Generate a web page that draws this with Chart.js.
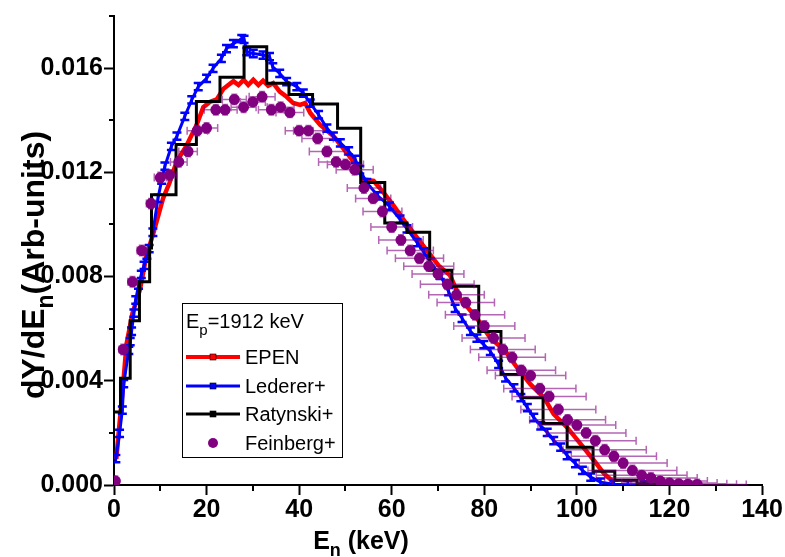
<!DOCTYPE html>
<html><head><meta charset="utf-8">
<script src="https://cdn.jsdelivr.net/npm/chart.js@4.4.0/dist/chart.umd.min.js"></script>
<style>html,body{margin:0;padding:0;background:#fff;}#wrap{width:785px;height:557px;position:relative;}</style>
</head><body><div id="wrap"><canvas id="c" width="785" height="557"></canvas></div>
<script>
// ---- data ----
const epenX = [0.5,0.9,2.0,2.7,4.0,5.6,7.0,8.4,10.6,12.0,13.5,15.6,17.8,19.3,20.7,22.2,23.6,24.7,25.8,26.9,28.0,29.0,30.1,31.2,32.2,33.3,34.4,35.8,37.3,38.7,40.2,41.3,42.4,44.5,47.4,50.3,52.5,53.9,56.1,58.2,60.4,63.3,66.2,70.1,72.6,74.8,78.4,81.3,84.6,87.1,90.0,92.9,95.0,97.9,100.8,103.7,105.9,108.0];
const epenY = [0.0010,0.0018,0.0039,0.0054,0.0066,0.0075,0.0088,0.0096,0.0110,0.0116,0.0124,0.0130,0.0138,0.0145,0.0147,0.0148,0.0152,0.01535,0.0155,0.01535,0.01555,0.01535,0.01555,0.01535,0.01552,0.01532,0.01542,0.0151,0.0149,0.01466,0.01459,0.01466,0.01428,0.01383,0.01339,0.01275,0.01224,0.01173,0.01167,0.01123,0.01072,0.0100,0.00932,0.00843,0.00805,0.00716,0.0064,0.00564,0.00513,0.0045,0.00386,0.00335,0.00272,0.00221,0.00158,0.00094,0.00043,0.0001];

const ledX = [0.4,1.2,1.8,2.1,3.2,3.5,3.8,4.3,4.7,5.3,5.9,6.5,7.1,7.6,8.4,9.5,10.3,11.0,12.4,13.6,15.3,16.8,18.2,20.0,21.4,23.2,24.3,25.8,27.6,28.1,28.7,30.1,32.2,33.6,34.3,35.8,37.3,39.5,40.9,42.4,44.2,46.0,47.4,48.9,50.7,52.1,53.1,54.6,57.0,59.5,61.8,63.3,65.5,66.9,68.3,70.5,72.3,73.7,75.2,77.0,78.4,79.9,81.3,83.1,84.6,86.4,87.9,89.3,90.7,92.2,93.6,95.0,96.5,97.9,99.7,101.2,103.0,105.1,108.0,111.0,114.5];
const ledY = [0.00101,0.00198,0.00287,0.00389,0.00517,0.0055,0.0059,0.0066,0.0071,0.00767,0.00808,0.00843,0.00882,0.00907,0.0097,0.0110,0.0117,0.01224,0.0130,0.01339,0.01415,0.01478,0.01529,0.01561,0.01599,0.01637,0.01675,0.01694,0.01713,0.0171,0.01663,0.01656,0.0165,0.01644,0.01605,0.0158,0.01548,0.01529,0.01504,0.01466,0.01421,0.0137,0.01339,0.01313,0.01282,0.0125,0.0121,0.0116,0.0111,0.0107,0.0102,0.00983,0.0093,0.00895,0.00856,0.00805,0.00742,0.00678,0.0064,0.0059,0.00564,0.00539,0.00513,0.00463,0.00411,0.00373,0.00335,0.00297,0.00259,0.00227,0.00202,0.0017,0.00145,0.00113,0.00082,0.00056,0.0003,0.00011,0.00003,0.00001,0.0];
const ledErr = 0.00014;

const ratEdges = [0,1.4,3.5,5.5,7.7,8.1,13.4,17.8,22.9,28.1,33.0,37.8,42.9,48.3,53.3,58.5,63.3,68.2,73.0,78.8,83.6,88.2,92.7,97.9,103.5,108.2,113.0,118.0];
const ratLevels = [0.0028,0.0041,0.0063,0.0078,0.0091,0.01114,0.01307,0.01472,0.01565,0.01682,0.01542,0.01499,0.01462,0.01369,0.01161,0.01006,0.0097,0.00824,0.00763,0.00589,0.00424,0.00335,0.00236,0.00145,0.00053,0.00018,0.00005];

const feinX = [0.3,2,4,6,8,10,12,14,16,18,20,22,24,26,28,30,32,34,36,38,40,42,44,46,48,50,52,54,56,58,60,62,64,66,68,70,72,74,76,78,80,82,84,86,88,90,92,94,96,98,100,102,104,106,108,110,112,114,116,118,120,122,124,126];
const feinY = [0.00015,0.0052,0.0078,0.0090,0.0108,0.0118,0.0119,0.0124,0.0128,0.0136,0.0137,0.0144,0.0144,0.0148,0.0145,0.0147,0.0149,0.0144,0.0145,0.0143,0.0136,0.0136,0.0133,0.0128,0.0124,0.0123,0.0121,0.0114,0.0110,0.0105,0.0099,0.0094,0.0090,0.0087,0.0084,0.0081,0.0077,0.0073,0.0070,0.00653,0.0061,0.00564,0.0052,0.0049,0.0044,0.0042,0.0037,0.0034,0.0029,0.0025,0.0023,0.0020,0.0017,0.00135,0.0011,0.00084,0.00056,0.00037,0.00027,0.00015,0.00008,0.00005,0.00003,0.00002];
const feinXErr = [0.1,0.9,1.0,1.0,1.0,1.3,1.5,1.8,2.0,2.2,2.4,2.5,2.6,2.6,2.7,2.7,2.8,2.8,2.9,3.0,3.0,3.2,3.4,3.8,3.8,3.9,4.0,3.6,3.8,4.2,4.5,4.8,5.0,5.2,5.4,5.6,5.8,6.0,6.2,6.4,6.6,6.8,7.0,7.2,7.4,7.6,7.8,8.0,8.1,8.2,8.4,8.6,8.8,9.0,9.2,9.5,9.6,9.8,10.0,10.2,10.3,10.4,10.5,10.6];
const feinYErr = 0.0002;

const yTicks = [0.000,0.004,0.008,0.012,0.016];
const xTicks = [0,20,40,60,80,100,120,140];

// ---- build ----
const pts = (xs, ys) => xs.map((x,i)=>({x:x,y:ys[i]}));
const ratData = ratLevels.map((v,i)=>({x:ratEdges[i],y:v}));
ratData.push({x:ratEdges[ratEdges.length-1], y:ratLevels[ratLevels.length-1]});

const errPlugin = {
  id:'errbars',
  beforeDatasetDraw(chart, args){
    const ds = chart.data.datasets[args.index];
    if (!ds._err) return;
    const xs = chart.scales.x, ys = chart.scales.y, ctx = chart.ctx, e = ds._err;
    const a = chart.chartArea;
    ctx.save();
    ctx.beginPath(); ctx.rect(a.left, a.top-5, a.right-a.left, a.bottom-a.top+5); ctx.clip();
    ctx.strokeStyle = e.color; ctx.lineWidth = e.width;
    ctx.beginPath();
    ds.data.forEach((p,i)=>{
      const px = xs.getPixelForValue(p.x), py = ys.getPixelForValue(p.y);
      if (e.y){
        const ev = Array.isArray(e.y)? e.y[i] : e.y;
        const y1 = ys.getPixelForValue(p.y-ev), y2 = ys.getPixelForValue(p.y+ev);
        ctx.moveTo(px,y1); ctx.lineTo(px,y2);
        ctx.moveTo(px-e.capY,y1); ctx.lineTo(px+e.capY,y1);
        ctx.moveTo(px-e.capY,y2); ctx.lineTo(px+e.capY,y2);
      }
      if (e.x){
        const ev = Array.isArray(e.x)? e.x[i] : e.x;
        const x1 = xs.getPixelForValue(p.x-ev), x2 = xs.getPixelForValue(p.x+ev);
        ctx.moveTo(x1,py); ctx.lineTo(x2,py);
        ctx.moveTo(x1,py-e.capX); ctx.lineTo(x1,py+e.capX);
        ctx.moveTo(x2,py-e.capX); ctx.lineTo(x2,py+e.capX);
      }
    });
    ctx.stroke();
    ctx.restore();
  }
};

const decoPlugin = {
  id:'deco',
  afterDraw(chart){
    const ctx = chart.ctx, xs = chart.scales.x, ys = chart.scales.y, a = chart.chartArea;
    ctx.save();
    // minor ticks
    ctx.strokeStyle = '#000'; ctx.lineWidth = 2;
    ctx.beginPath();
    for (let v = 0.002; v <= 0.0181; v += 0.004){
      const py = Math.round(ys.getPixelForValue(v));
      ctx.moveTo(a.left-5, py); ctx.lineTo(a.left, py);
    }
    for (let v = 10; v <= 131; v += 20){
      const px = Math.round(xs.getPixelForValue(v));
      ctx.moveTo(px, a.bottom); ctx.lineTo(px, a.bottom+6);
    }
    ctx.stroke();
    // axis titles
    ctx.fillStyle = '#000';
    ctx.textBaseline = 'alphabetic';
    const F = (s)=>'bold '+s+'px "Liberation Sans", Arial, sans-serif';
    const drawSub = (parts, x, y) => {
      let w = 0; parts.forEach(p=>{ctx.font=p[1]; w += ctx.measureText(p[0]).width;});
      let cx = x - w/2;
      parts.forEach(p=>{ctx.font=p[1]; ctx.textAlign='left'; ctx.fillText(p[0], cx, y+p[2]); cx += ctx.measureText(p[0]).width;});
    };
    drawSub([['E',F(25),0],['n',F(18),7],[' (keV)',F(25),0]], 361, 549);
    ctx.save();
    ctx.translate(44, 265); ctx.rotate(-Math.PI/2);
    drawSub([['dY/dE',F(32),0],['n',F(23),9],['(Arb-units)',F(32),0]], 0, 0);
    ctx.restore();
    // legend
    const L = 182, T = 303, R = 342, B = 457;
    ctx.strokeStyle = '#000'; ctx.lineWidth = 1;
    ctx.strokeRect(L+0.5, T+0.5, R-L, B-T);
    const lf = '20px "Liberation Sans", Arial, sans-serif';
    const lsub = '15px "Liberation Sans", Arial, sans-serif';
    ctx.textAlign='left';
    ctx.font = lf; ctx.fillText('E', 186, 328);
    let wE = ctx.measureText('E').width;
    ctx.font = lsub; ctx.fillText('p', 186+wE, 335);
    let wp = ctx.measureText('p').width;
    ctx.font = lf; ctx.fillText('=1912 keV', 186+wE+wp, 328);
    const items = [['EPEN','#ff0000',4,357],['Lederer+','#0000ff',3,386],['Ratynski+','#000000',3,414],['Feinberg+','#800080',0,443]];
    items.forEach(it=>{
      const y = it[3];
      if (it[2]>0){
        ctx.strokeStyle = it[1]; ctx.lineWidth = it[2];
        ctx.beginPath(); ctx.moveTo(186,y); ctx.lineTo(240,y); ctx.stroke();
        ctx.fillStyle = it[1]; ctx.fillRect(210,y-3,6,6);
        ctx.strokeStyle = '#000'; ctx.lineWidth=0.6; ctx.strokeRect(210,y-3,6,6);
      } else {
        ctx.fillStyle = it[1]; ctx.beginPath(); ctx.arc(213,y,5,0,Math.PI*2); ctx.fill();
      }
      ctx.fillStyle = '#000'; ctx.font = lf; ctx.textBaseline='middle';
      ctx.fillText(it[0], 245, y+1);
      ctx.textBaseline='alphabetic';
    });
    ctx.restore();
  }
};

const tickFont = {family:'"Liberation Sans", Arial, sans-serif', size:25, weight:'bold'};

new Chart(document.getElementById('c'), {
  type:'scatter',
  data:{datasets:[
    {label:'Feinberg+', data:pts(feinX,feinY), showLine:false, pointRadius:5.5, pointHoverRadius:5.5,
     backgroundColor:'#800080', borderColor:'#800080', borderWidth:0, order:0,
     _err:{x:feinXErr, y:feinYErr, color:'rgba(128,0,128,0.6)', width:1.5, capX:4, capY:3}},
    {label:'Ratynski+', data:ratData, showLine:true, stepped:'before', pointRadius:0, borderColor:'#000', borderWidth:3, order:1},
    {label:'Lederer+', data:pts(ledX,ledY), showLine:true, pointRadius:0, borderColor:'#0000ff', borderWidth:3, order:2,
     _err:{y:ledErr, color:'#0000ff', width:2.5, capY:4.5}},
    {label:'EPEN', data:pts(epenX,epenY), showLine:true, pointRadius:0, borderColor:'#ff0000', borderWidth:4.5, order:3}
  ]},
  options:{
    responsive:false, animation:false, devicePixelRatio:1,
    layout:{padding:{top:11,right:23,left:0,bottom:0}},
    plugins:{legend:{display:false}, tooltip:{enabled:false}},
    scales:{
      x:{type:'linear', min:0, max:140,
         afterFit(s){s.height=72;},
         afterBuildTicks(s){s.ticks = xTicks.map(v=>({value:v}));},
         grid:{display:true, drawOnChartArea:false, drawTicks:true, tickLength:10, tickWidth:2, tickColor:'#000'},
         border:{display:true, color:'#000', width:2},
         ticks:{color:'#000', font:tickFont, padding:0, maxRotation:0, autoSkip:false, callback:v=>String(v)}},
      y:{type:'linear', min:0, max:0.018,
         afterFit(s){s.width=114;},
         afterBuildTicks(s){s.ticks = yTicks.map(v=>({value:v}));},
         grid:{display:true, drawOnChartArea:false, drawTicks:true, tickLength:10, tickWidth:2, tickColor:'#000'},
         border:{display:true, color:'#000', width:2},
         ticks:{color:'#000', font:tickFont, padding:1, autoSkip:false, callback:v=>v.toFixed(3)}}
    }
  },
  plugins:[errPlugin, decoPlugin]
});
</script></body></html>
